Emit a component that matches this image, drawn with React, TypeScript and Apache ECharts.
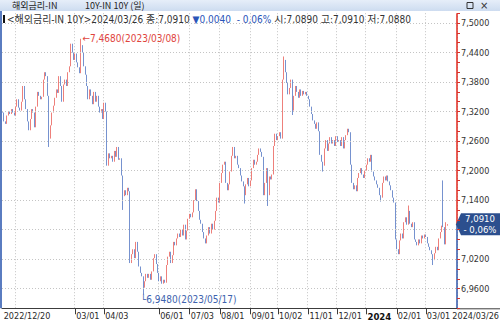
import React, { useEffect, useRef } from 'react';
import * as echarts from 'echarts';

// ---------------- data ----------------
const startDate = '2022-12-20';
const endDate = '2024-03-26';
const holidays = [
  '2023-01-26', '2023-03-07', '2023-03-22', '2023-03-30', '2023-04-04', '2023-04-07', '2023-04-14',
  '2023-05-01', '2023-05-05', '2023-06-29', '2023-08-15', '2023-08-16', '2023-09-19', '2023-09-28',
  '2023-10-24', '2023-11-14', '2023-11-27', '2023-12-25', '2024-01-22', '2024-01-26', '2024-02-19',
  '2024-03-08', '2024-03-25',
];

const closes = [
  7.318, 7.300, 7.295, 7.312, 7.320, 7.315, 7.325, 7.318, 7.312, 7.330,
  7.345, 7.328, 7.322, 7.340, 7.372, 7.345, 7.325, 7.300, 7.282, 7.305,
  7.325, 7.318, 7.288, 7.330, 7.360, 7.352, 7.345, 7.350, 7.385, 7.400,
  7.392, 7.352, 7.265, 7.292, 7.318, 7.332, 7.348, 7.365, 7.358, 7.392,
  7.372, 7.340, 7.375, 7.385, 7.372, 7.400, 7.412, 7.458, 7.440, 7.425,
  7.438, 7.420, 7.410, 7.398, 7.455, 7.440, 7.412, 7.395, 7.372, 7.345,
  7.365, 7.352, 7.335, 7.360, 7.340, 7.352, 7.330, 7.318, 7.325, 7.305,
  7.338, 7.320, 7.210, 7.235, 7.225, 7.230, 7.218, 7.240, 7.228, 7.248,
  7.222, 7.225, 7.190, 7.148, 7.160, 7.150, 7.165, 7.158, 7.012, 7.030,
  7.040, 7.022, 7.055, 7.035, 7.005, 6.992, 6.985, 6.962, 6.975, 6.990,
  6.982, 6.990, 6.978, 6.995, 7.022, 7.030, 7.010, 6.992, 6.975, 6.985,
  6.970, 6.978, 6.972, 7.008, 7.025, 7.035, 7.012, 7.028, 7.055, 7.048,
  7.062, 7.072, 7.065, 7.080, 7.068, 7.090, 7.060, 7.078, 7.102, 7.112,
  7.105, 7.115, 7.140, 7.162, 7.138, 7.118, 7.100, 7.092, 7.075, 7.062,
  7.052, 7.068, 7.085, 7.072, 7.092, 7.080, 7.098, 7.118, 7.145, 7.135,
  7.175, 7.195, 7.212, 7.218, 7.175, 7.160, 7.172, 7.198, 7.230, 7.248,
  7.225, 7.230, 7.212, 7.205, 7.190, 7.178, 7.168, 7.150, 7.172, 7.185,
  7.168, 7.180, 7.205, 7.222, 7.212, 7.218, 7.232, 7.245, 7.238, 7.228,
  7.150, 7.175, 7.205, 7.150, 7.188, 7.182, 7.192, 7.250, 7.275, 7.262,
  7.270, 7.278, 7.265, 7.385, 7.425, 7.400, 7.378, 7.355, 7.368, 7.385,
  7.322, 7.352, 7.372, 7.360, 7.348, 7.365, 7.352, 7.362, 7.355, 7.360,
  7.352, 7.345, 7.330, 7.315, 7.302, 7.295, 7.285, 7.298, 7.280, 7.232,
  7.218, 7.210, 7.245, 7.262, 7.240, 7.255, 7.268, 7.255, 7.262, 7.250,
  7.270, 7.258, 7.262, 7.250, 7.268, 7.245, 7.262, 7.272, 7.285, 7.278,
  7.212, 7.175, 7.162, 7.170, 7.158, 7.185, 7.195, 7.205, 7.192, 7.185,
  7.200, 7.212, 7.225, 7.218, 7.232, 7.198, 7.188, 7.180, 7.172, 7.165,
  7.150, 7.145, 7.175, 7.188, 7.180, 7.190, 7.178, 7.170, 7.160, 7.145,
  7.135, 7.060, 7.040, 7.030, 7.058, 7.072, 7.062, 7.095, 7.105, 7.090,
  7.118, 7.092, 7.085, 7.095, 7.060, 7.055, 7.048, 7.060, 7.052, 7.068,
  7.062, 7.070, 7.065, 7.052, 7.045, 7.038, 7.030, 7.018, 7.032, 7.045,
  7.038, 7.062, 7.075, 7.088, 7.085, 7.050, 7.095, 7.091,
];
const firstOpen = 7.320;
const gapOpens: [number, number][] = [[307, 7.089]];
const wickHighs: [number, number][] = [[54, 7.468], [194, 7.432], [280, 7.129], [304, 7.180], [307, 7.091]];
const wickLows: [number, number][] = [
  [32, 7.248], [83, 7.120], [97, 6.948], [167, 7.133], [183, 7.128], [200, 7.313],
  [221, 7.198], [261, 7.137], [297, 7.008], [307, 7.088],
];

const xLabels: [string, string][] = [
  ['2022-12-20', '2022/12/20'], ['2023-03-01', '03/01'], ['2023-04-03', '04/03'], ['2023-06-01', '06/01'],
  ['2023-07-03', '07/03'], ['2023-08-01', '08/01'], ['2023-09-01', '09/01'], ['2023-10-02', '10/02'],
  ['2023-11-01', '11/01'], ['2023-12-01', '12/01'], ['2024-01-01', '2024'], ['2024-02-01', '02/01'],
  ['2024-03-01', '03/01'],
];
const extraGridDates = ['2023-01-02'];
const yTicks = [6.96, 7.02, 7.08, 7.14, 7.20, 7.26, 7.32, 7.38, 7.44, 7.50];
const hiddenYLabel = 7.08;
const seriesName = '해외금리-IN';
const seriesTitle = '10Y-IN 10Y (일)';
const seriesCode = '<해외금리-IN 10Y>';

// ---------------- layout / style ----------------
const W = 500;
const H = 325;
const GRID_LEFT = 2;
const GRID_RIGHT = 43;
const GRID_TOP = 13.2;
const GRID_BOTTOM = 16.7;
const Y_MIN = 6.92;
const Y_MAX = 7.52;
const PAD_CATS = 6;
const UP = '#ec726c';
const DOWN = '#6686ca';
const FONT = "'Liberation Sans Narrow', 'Arial Narrow', 'DejaVu Sans Condensed', 'Liberation Sans', 'Noto Sans CJK KR', sans-serif";
const CJK = "'Noto Sans CJK KR', sans-serif";

const fmt4 = (v: number) => v.toFixed(4).replace('.', ',');

function buildDates(): string[] {
  const out: string[] = [];
  const hs = new Set(holidays);
  const d = new Date(startDate + 'T00:00:00Z');
  const end = new Date(endDate + 'T00:00:00Z');
  while (d.getTime() <= end.getTime()) {
    const wd = d.getUTCDay();
    const s = d.toISOString().slice(0, 10);
    if (wd !== 0 && wd !== 6 && !hs.has(s)) out.push(s);
    d.setUTCDate(d.getUTCDate() + 1);
  }
  return out;
}

export default function App() {
  const ref = useRef<HTMLDivElement>(null);
  useEffect(() => {
    document.body.style.margin = '0';
    const dates = buildDates().slice(0, closes.length);
    const cats = dates.concat(Array.from({ length: PAD_CATS }, (_, i) => ' '.repeat(i + 1)));
    const go = new Map(gapOpens);
    const wh = new Map(wickHighs);
    const wl = new Map(wickLows);
    const data = closes.map((c, i) => {
      const o = go.has(i) ? (go.get(i) as number) : i === 0 ? firstOpen : closes[i - 1];
      let lo = Math.min(o, c);
      let hi = Math.max(o, c);
      if (wl.has(i)) lo = Math.min(lo, wl.get(i) as number);
      if (wh.has(i)) hi = Math.max(hi, wh.get(i) as number);
      return [o, c, lo, hi];
    });
    let maxI = 0;
    let minI = 0;
    data.forEach((d, i) => {
      if (d[3] > data[maxI][3]) maxI = i;
      if (d[2] < data[minI][2]) minI = i;
    });
    const last = data[data.length - 1];
    const lastClose = last[1];
    const prevClose = closes[closes.length - 2];
    const chg = lastClose - prevClose;
    const pct = (chg / prevClose) * 100;
    const pctText = (pct < 0 ? '- ' : '+ ') + Math.abs(pct).toFixed(2).replace('.', ',') + '%';
    const lastDate = dates[dates.length - 1].replace(/-/g, '/');

    const labelMap = new Map(xLabels);
    const labelIdx = new Set<number>();
    const gridIdx = new Set<number>();
    dates.forEach((d, i) => {
      if (labelMap.has(d)) { labelIdx.add(i); gridIdx.add(i); }
      if (extraGridDates.includes(d)) gridIdx.add(i);
    });
    gridIdx.delete(0);

    const chart = echarts.init(ref.current as HTMLDivElement, null, { renderer: 'svg', width: W, height: H });
    chart.setOption({
      animation: false,
      grid: { left: GRID_LEFT, right: GRID_RIGHT, top: GRID_TOP, bottom: GRID_BOTTOM, containLabel: false },
      xAxis: {
        type: 'category',
        data: cats,
        boundaryGap: true,
        axisLine: { show: true, lineStyle: { color: '#3c3c3c', width: 1 } },
        axisTick: {
          show: true, alignWithLabel: true, length: 6,
          interval: (i: number) => labelIdx.has(i) && i !== 0,
          lineStyle: { color: '#3c3c3c' },
        },
        axisLabel: {
          show: true,
          interval: (i: number) => labelIdx.has(i),
          formatter: (v: string) => {
            const t = labelMap.get(v) || '';
            return t === '2024' ? '{b|2024}' : t;
          },
          align: 'left',
          margin: 3,
          padding: [0, 0, 0, 1],
          fontSize: 9,
          fontFamily: FONT,
          color: '#2a2a2a',
          rich: { b: { fontWeight: 'bold', fontSize: 9.5, fontFamily: FONT, color: '#111' } },
        },
        splitLine: {
          show: true,
          interval: (i: number) => gridIdx.has(i),
          lineStyle: { color: '#c4c4c4', type: [1, 2], width: 1 },
        },
      },
      yAxis: {
        type: 'value',
        position: 'right',
        min: Y_MIN,
        max: Y_MAX,
        interval: 0.02,
        scale: true,
        axisLine: { show: false },
        axisTick: { show: true, length: 3, lineStyle: { color: '#d8322a' } },
        axisLabel: {
          show: true,
          margin: 4,
          fontSize: 9,
          fontFamily: FONT,
          color: '#333',
          formatter: (v: number) => {
            const k = Math.round((v - yTicks[0]) / 0.02);
            if (k % 3 !== 0 || k < 0 || Math.abs(v - hiddenYLabel) < 1e-6) return '';
            return fmt4(v);
          },
        },
        splitLine: { show: false },
      },
      series: [
        {
          type: 'candlestick',
          data,
          barWidth: 1,
          itemStyle: { color: UP, color0: DOWN, borderColor: UP, borderColor0: DOWN, borderWidth: 0.9 },
          markLine: {
            silent: true,
            symbol: ['none', 'none'],
            label: { show: false },
            lineStyle: { color: '#c4c4c4', type: [1, 2], width: 1 },
            emphasis: { disabled: true },
            data: yTicks.map((v) => ({ yAxis: v })),
          },
          markPoint: {
            silent: true,
            symbol: 'circle',
            symbolSize: 1,
            itemStyle: { color: 'rgba(0,0,0,0)' },
            data: [
              {
                coord: [dates[maxI], data[maxI][3]],
                label: {
                  show: true, position: 'right', distance: 1,
                  formatter: '←' + fmt4(data[maxI][3]) + '(' + dates[maxI].replace(/-/g, '/') + ')',
                  color: '#e0443c', fontSize: 10, fontFamily: FONT,
                },
              },
              {
                coord: [dates[minI], data[minI][2]],
                label: {
                  show: true, position: [-2, 0],
                  formatter: '└' + fmt4(data[minI][2]) + '(' + dates[minI].replace(/-/g, '/') + ')',
                  color: '#3e63ae', fontSize: 10, fontFamily: FONT,
                },
              },
            ],
          },
        },
      ],
    });

    const yc = chart.convertToPixel({ yAxisIndex: 0 }, lastClose) as number;
    const yTop = GRID_TOP;
    const yBot = H - GRID_BOTTOM;
    const xAx = W - GRID_RIGHT;
    chart.setOption({
      graphic: [
        {
          type: 'rect', shape: { x: 0, y: 0, width: W, height: 11 },
          style: {
            fill: new echarts.graphic.LinearGradient(0, 0, 0, 1, [
              { offset: 0, color: '#e6eef9' }, { offset: 1, color: '#cddcf0' },
            ]),
          },
          silent: true,
        },
        { type: 'text', x: 12, y: 5.5, style: { text: seriesName, fontSize: 9, fontFamily: CJK, fill: '#222', verticalAlign: 'middle' } },
        { type: 'text', x: 85, y: 5.5, style: { text: seriesTitle, fontSize: 9, fontFamily: CJK, fill: '#222', verticalAlign: 'middle' } },
        { type: 'rect', shape: { x: 467, y: 2.5, width: 6, height: 6 }, style: { fill: 'none', stroke: '#333', lineWidth: 1 } },
        { type: 'text', x: 480, y: 5.5, style: { text: '×', fontSize: 10, fontFamily: 'DejaVu Sans', fill: '#333', verticalAlign: 'middle' } },
        { type: 'rect', shape: { x: 3, y: 15, width: 2, height: 8 }, style: { fill: '#111' } },
        {
          type: 'text', x: 7, y: 19.5,
          style: {
            text: '{d|' + seriesCode + lastDate + ' 종:' + fmt4(lastClose) + ' }{b|' + (chg < 0 ? '▼' : '▲') + fmt4(Math.abs(chg)) + '  ' + pctText + '}{d| 시:' + fmt4(last[0]) + ' 고:' + fmt4(last[3]) + ' 저:' + fmt4(last[2]) + '}',
            verticalAlign: 'middle',
            rich: {
              d: { fontSize: 10, fontFamily: FONT, fill: '#333' },
              b: { fontSize: 10, fontFamily: FONT, fill: '#2a55b8' },
            },
          },
        },
        { type: 'rect', shape: { x: 0, y: 11, width: 2, height: yBot - 11 }, style: { fill: '#5a7cc0' }, silent: true },
        { type: 'line', shape: { x1: xAx, y1: yTop, x2: xAx, y2: yc }, style: { stroke: '#e0281e', lineWidth: 1.5 } },
        { type: 'line', shape: { x1: xAx, y1: yc, x2: xAx, y2: yBot }, style: { stroke: '#2f56a8', lineWidth: 1.5 } },
        { type: 'line', shape: { x1: xAx, y1: yBot + 0.5, x2: W, y2: yBot + 0.5 }, style: { stroke: '#3c3c3c', lineWidth: 1 } },
        {
          type: 'polygon',
          shape: { points: [[xAx - 1, yc], [xAx + 4, yc - 11], [W, yc - 11], [W, yc + 11], [xAx + 4, yc + 11]] },
          style: { fill: '#2c4f8e' },
        },
        {
          type: 'text', x: 480, y: yc,
          style: {
            text: fmt4(lastClose) + '\n' + pctText,
            fontSize: 9.5, lineHeight: 10.5, fontFamily: FONT, fill: '#fff', align: 'center', verticalAlign: 'middle',
          },
        },
        { type: 'text', x: 499, y: yBot + 8, style: { text: lastDate, fontSize: 9, fontFamily: FONT, fill: '#2a2a2a', align: 'right', verticalAlign: 'middle' } },
      ],
    });
    return () => chart.dispose();
  }, []);
  return <div ref={ref} style={{ position: 'fixed', left: 0, top: 0, width: W, height: H, background: '#fff' }} />;
}
